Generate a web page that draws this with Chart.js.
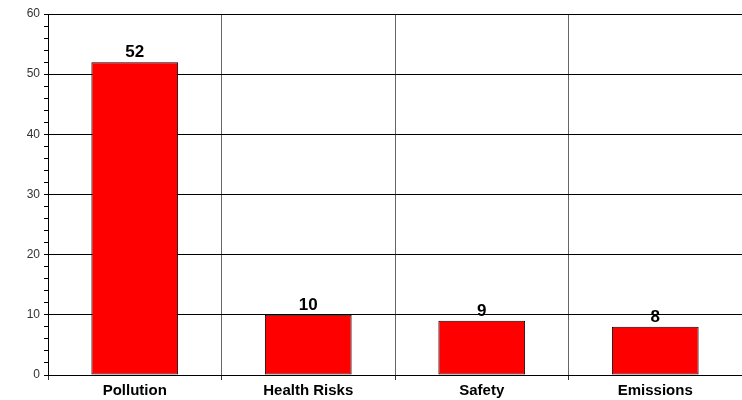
<!DOCTYPE html>
<html>
<head>
<meta charset="utf-8">
<script src="https://cdn.jsdelivr.net/npm/chart.js@4"></script>
<style>
  html, body { margin: 0; padding: 0; background: #fff; }
  #wrap { width: 742px; height: 400px; }
</style>
</head>
<body>
<div id="wrap"><canvas id="chart" width="742" height="400"></canvas></div>
<script>
// Chart data
const categories = ['Pollution', 'Health Risks', 'Safety', 'Emissions'];
const counts = [52, 10, 9, 8];
const yMin = 0;
const yMax = 60;

// Draws the value above each bar
const valueLabels = {
    id: 'valueLabels',
    afterDatasetsDraw(chart) {
        const ctx = chart.ctx;
        const meta = chart.getDatasetMeta(0);
        ctx.save();
        ctx.font = 'bold 17px "Liberation Sans", Arial, sans-serif';
        ctx.fillStyle = '#000';
        ctx.textAlign = 'center';
        ctx.textBaseline = 'alphabetic';
        meta.data.forEach((bar, i) => {
            ctx.fillText(String(counts[i]), bar.x, bar.y - 5);
        });
        ctx.restore();
    }
};

new Chart(document.getElementById('chart'), {
    type: 'bar',
    data: {
        labels: categories,
        datasets: [{
            data: counts,
            backgroundColor: '#ff0000',
            borderColor: '#000',
            borderWidth: 1,
            borderSkipped: false,
            barPercentage: 0.5,
            categoryPercentage: 1.0
        }]
    },
    options: {
        responsive: false,
        animation: false,
        layout: { padding: { top: 14, right: -7, left: 0, bottom: 0 } },
        plugins: { legend: { display: false }, tooltip: { enabled: false } },
        scales: {
            x: {
                grid: { color: '#666', lineWidth: 1, tickLength: 5, tickColor: '#333', offset: true },
                border: { color: '#000', width: 1 },
                ticks: {
                    color: '#000',
                    padding: 2,
                    font: { family: '"Liberation Sans", Arial, sans-serif', size: 15, weight: 'bold' }
                },
                afterFit(scale) { scale.height = 25; }
            },
            y: {
                min: yMin,
                max: yMax,
                grid: {
                    color: ctx => (ctx.tick && ctx.tick.value % 10 === 0) ? '#000' : 'rgba(0,0,0,0)',
                    tickColor: '#000',
                    tickLength: 4
                },
                border: { color: '#000', width: 1 },
                ticks: {
                    stepSize: 2,
                    autoSkip: false,
                    color: '#333',
                    padding: 4,
                    font: { family: '"Liberation Sans", Arial, sans-serif', size: 12 },
                    callback: v => (v % 10 === 0 ? v : '')
                },
                afterFit(scale) { scale.width = 48; }
            }
        }
    },
    plugins: [valueLabels]
});
</script>
</body>
</html>
